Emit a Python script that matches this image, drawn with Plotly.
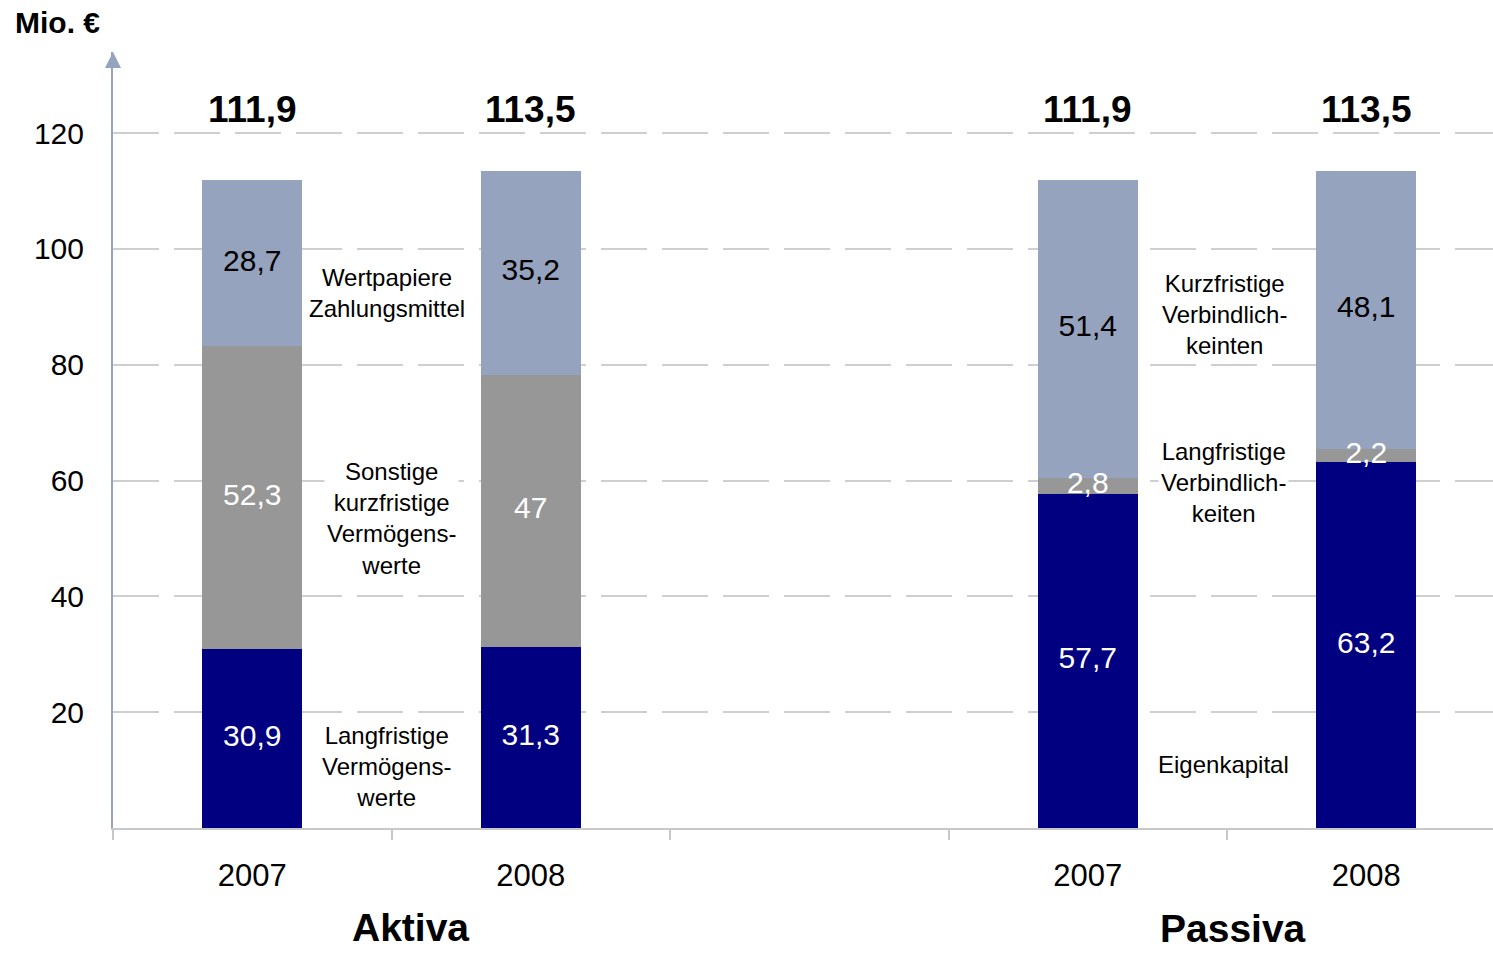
import plotly.graph_objects as go

# ---- data ----
x_pos = [0, 1, 3, 4]
years = ["2007", "2008", "2007", "2008"]
bottom_vals = [30.9, 31.3, 57.7, 63.2]   # Langfristige Vermögenswerte / Eigenkapital
middle_vals = [52.3, 47.0, 2.8, 2.2]     # Sonstige kurzfr. Vermögenswerte / Langfr. Verbindlichkeiten
top_vals = [28.7, 35.2, 51.4, 48.1]      # Wertpapiere Zahlungsmittel / Kurzfr. Verbindlichkeiten
totals = [111.9, 113.5, 111.9, 113.5]
group_names = ["Aktiva", "Passiva"]
y_ticks = [20, 40, 60, 80, 100, 120]

seg_labels = [
    ("Wertpapiere<br>Zahlungsmittel", 0.483, 92.4),
    ("Sonstige<br>kurzfristige<br>Vermögens-<br>werte", 0.50, 53.5),
    ("Langfristige<br>Vermögens-<br>werte", 0.483, 10.6),
    ("Kurzfristige<br>Verbindlich-<br>keinten", 3.492, 88.7),
    ("Langfristige<br>Verbindlich-<br>keiten", 3.488, 59.6),
    ("Eigenkapital", 3.488, 11.0),
]

FONT = "Liberation Sans, Arial, sans-serif"
C_TOP = "#95A3BE"
C_MID = "#979797"
C_BOT = "#000080"


def fmt(v):
    return f"{v:g}".replace(".", ",")


fig = go.Figure()
series = [(bottom_vals, C_BOT, "white"), (middle_vals, C_MID, "white"), (top_vals, C_TOP, "black")]
for vals, col, _ in series:
    fig.add_trace(go.Bar(
        x=x_pos, y=vals, marker=dict(color=col, line=dict(width=0)),
        width=0.36, showlegend=False, hoverinfo="skip",
    ))

# value labels centred in each segment (drawn above all bars)
base = [0.0] * len(x_pos)
for vals, _, tcol in series:
    mids = [b + v / 2 for b, v in zip(base, vals)]
    fig.add_trace(go.Scatter(
        x=x_pos, y=mids, mode="text", text=[fmt(v) for v in vals],
        textposition="middle center", cliponaxis=False,
        textfont=dict(family=FONT, size=30, color=tcol),
        showlegend=False, hoverinfo="skip",
    ))
    base = [b + v for b, v in zip(base, vals)]

annotations = []
for xp, t in zip(x_pos, totals):
    annotations.append(dict(x=xp, y=124, xref="x", yref="y", text=f"<b>{fmt(t)}</b>",
                            xanchor="center", yanchor="middle",
                            showarrow=False, font=dict(family=FONT, size=37, color="black")))
for txt, xv, yv in seg_labels:
    annotations.append(dict(x=xv, y=yv, xref="x", yref="y", text=txt, showarrow=False,
                            xanchor="center", yanchor="middle",
                            bgcolor="white", borderpad=2,
                            font=dict(family=FONT, size=24, color="black")))
annotations.append(dict(x=0.569, y=-(927 - 828) / 776, xref="x", yref="paper", text=f"<b>{group_names[0]}</b>",
                        xanchor="center", yanchor="middle",
                        showarrow=False, font=dict(family=FONT, size=39, color="black")))
annotations.append(dict(x=3.52, y=-(928 - 828) / 776, xref="x", yref="paper", text=f"<b>{group_names[1]}</b>",
                        xanchor="center", yanchor="middle",
                        showarrow=False, font=dict(family=FONT, size=39, color="black")))
annotations.append(dict(x=-100 / 1380, y=(828 - 23) / 776, xref="paper", yref="paper", text="<b>Mio. €</b>",
                        xanchor="left", yanchor="middle", showarrow=False,
                        font=dict(family=FONT, size=30, color="black")))

x0 = -0.5
x1 = x0 + 1380 / 278.5

shapes = [dict(type="path", xref="paper", yref="paper", xsizemode="pixel", ysizemode="pixel",
               xanchor=0, yanchor=1, path="M -8,-16 L 8,-16 L 0,0 Z",
               fillcolor=C_TOP, line=dict(width=0), layer="above")]

fig.update_layout(
    width=1493, height=953,
    margin=dict(l=113, r=0, t=52, b=125),
    paper_bgcolor="white", plot_bgcolor="white",
    barmode="stack",
    font=dict(family=FONT, color="black"),
    annotations=annotations,
    shapes=shapes,
    xaxis=dict(range=[x0, x1], tickmode="array", tickvals=x_pos, ticktext=years,
               ticks="", showgrid=False, zeroline=False, automargin=False,
               showline=True, linecolor="#C8C8C8", linewidth=2,
               tickfont=dict(family=FONT, size=31, color="black"), ticklabelstandoff=19,
               minor=dict(tickmode="linear", tick0=0.5, dtick=1, ticks="outside",
                          ticklen=10, tickcolor="#C8C8C8", tickwidth=2, showgrid=False)),
    yaxis=dict(range=[0, 134], tickmode="array", tickvals=y_ticks,
               ticks="", showgrid=True, gridcolor="#CFCFCF", gridwidth=1.5, griddash="46px,15px",
               zeroline=False, showline=True, linecolor=C_TOP, linewidth=2, automargin=False,
               tickfont=dict(family=FONT, size=30, color="black"), ticklabelstandoff=21),
)

fig.write_html("out.html", config={"displayModeBar": False},
               post_script="document.body.style.margin='0';")
